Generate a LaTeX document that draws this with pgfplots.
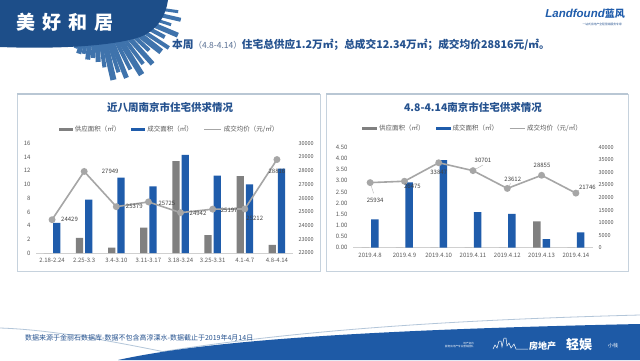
\documentclass[border=0pt]{standalone}
\usepackage{fontspec}
\setmainfont{Noto Sans CJK SC}
\newfontfamily\logofont{Liberation Sans}
\usepackage{pgfplots}
\usepackage{pgfplotstable}
\pgfplotsset{compat=1.18}
\definecolor{bannerblue}{HTML}{1D4E89}
\definecolor{skyblue}{HTML}{3F73AC}
\definecolor{barblue}{HTML}{1F5CAB}
\definecolor{bargray}{HTML}{808080}
\definecolor{lngray}{HTML}{A6A6A6}
\definecolor{titleblue}{HTML}{25528F}
\definecolor{subgray}{HTML}{5A7194}
\definecolor{panelborder}{HTML}{C6D2DD}
\definecolor{paneltop}{HTML}{B9C7D4}
\definecolor{ticktext}{HTML}{595959}
\definecolor{labeltext}{HTML}{404040}
\definecolor{axisgray}{HTML}{D0D0D0}
\definecolor{footblue}{HTML}{1E5AA6}
\definecolor{footline}{HTML}{B3C6D9}
\definecolor{leader}{HTML}{BFBFBF}

\pgfplotstableread{
x supply deal price dx dy
0 0 4.4 24429 17.5 0
1 2.2 7.8 27949 26 0
2 0.8 11.0 25379 18 0
3 3.7 9.7 25725 18.5 -1.5
4 13.4 14.3 24942 17.5 -1
5 2.6 11.3 25197 16.5 -1
6 11.2 10.0 25212 10 -9
7 1.2 12.3 28816 0 -11.5
}\lefttab

\pgfplotstableread{
x supply deal price dx dy
0 0 1.27 25934 5 -18
1 0 2.93 26475 8 -5.5
2 0 3.93 33847 0 -9.5
3 0 1.60 30701 10 10
4 0 1.52 23612 5.5 9.5
5 1.18 0.38 28855 0.5 10
6 0 0.69 21746 11.5 6
}\righttab

\pgfplotsset{
  slidebase/.style={
    anchor=south west, scale only axis, clip=false,
    /pgf/number format/assume math mode=true,
    major tick length=0pt,
    tick label style={font=\fontsize{6}{7}\selectfont, text=ticktext},
  },
  pricestyle/.style={
    color=lngray, line width=1.6pt, mark=*, mark size=2.6pt,
    mark options={fill=lngray, draw=lngray},
    nodes near coords, point meta=explicit symbolic,
    visualization depends on={\thisrow{dx} \as \dx},
    visualization depends on={\thisrow{dy} \as \dy},
    every node near coord/.append style={anchor=center, xshift=\dx pt, yshift=\dy pt,
      font=\fontsize{6}{7}\selectfont, text=labeltext},
  },
  legstyle/.style={
    legend columns=3,
    legend cell align=left,
    legend style={draw=none, fill=none, font=\fontsize{6.5}{7.5}\selectfont, text=ticktext,
      /tikz/every even column/.append style={column sep=9pt}},
  },
}

\begin{document}
\begin{tikzpicture}
\begin{scope}[x=1pt,y=1pt]
\path[use as bounding box] (0,0) rectangle (640,360);
\fill[white] (0,0) rectangle (640,360);

% ---------- header skyline ----------
\foreach \a/\l/\w in {-8/84/3,-13/88/4,-18/80/3,-23/90/5,-28/79/4,-33/88/4,-38/84/6,-43/74/4,-48/86/5,-53/80/4,-58/88/6,-63/78/4,-68/84/5,-72/76/4,-77/82/6,-82/68/4,-87/62/5,-92/58/4,-97/60/5,-102/55/4,-107/56/5,-112/52/4}{
  \fill[skyblue, rotate around={\a:(95,360)}] (125,{360-\w/2}) rectangle ({95+\l},{360+\w/2});
}
\fill[bannerblue] (0,360) -- (168,360) .. controls (166,345) and (158,330) .. (140,323)
  .. controls (110,313) and (50,311) .. (0,313) -- cycle;
\node[text=white, font=\fontsize{19}{20}\selectfont\bfseries] at (65,338)
  {美\hspace{7pt}好\hspace{7pt}和\hspace{7pt}居};

% logo
\node[anchor=east, inner sep=0pt] at (625,346)
  {\textcolor{barblue}{{\logofont\fontsize{11.5}{12}\selectfont\bfseries\itshape Landfound}{\fontsize{10}{11}\selectfont\bfseries 蓝风}}};
\node[anchor=east, inner sep=0pt, text=titleblue, font=\fontsize{2.8}{3}\selectfont] at (622,336)
  {一站式房地产全程营销服务专家};

% subtitle
\node[anchor=west, inner sep=0pt, text=titleblue] at (172,315)
  {{\fontsize{10.7}{12}\selectfont\bfseries 本周}{\fontsize{8.5}{10}\selectfont\color{subgray}（4.8-4.14）}{\fontsize{10.7}{12}\selectfont\bfseries 住宅总供应1.2万㎡；总成交12.34万㎡；成交均价28816元/㎡。}};

% ---------- panels ----------
\draw[panelborder, line width=1pt] (17,89) rectangle (320,266);
\draw[paneltop, line width=2.4pt] (17,266) -- (320,266);
\draw[panelborder, line width=1pt] (326,89) rectangle (628,266);
\draw[paneltop, line width=2.4pt] (326,266) -- (628,266);

\node[text=titleblue, font=\fontsize{10.5}{12}\selectfont\bfseries] at (170,253) {近八周南京市住宅供求情况};
\node[text=titleblue, font=\fontsize{10.5}{12}\selectfont\bfseries] at (473,253) {4.8-4.14南京市住宅供求情况};

% ---------- footer ----------
\draw[footline, line width=0.8pt] (0,32) .. controls (60,30) and (130,15) .. (190,3);
\draw[footline, line width=0.8pt] (160,8) .. controls (300,30) and (450,40) .. (640,45);
\fill[footblue] (118,0) .. controls (200,18) and (350,30) .. (640,36) -- (640,0) -- cycle;
\node[anchor=west, inner sep=0pt, text=titleblue, font=\fontsize{7}{8}\selectfont] at (25,22)
  {数据来源于金丽石数据库-数据不包含高淳溧水-数据截止于2019年4月14日};
\node[anchor=west, inner sep=0pt, text=white, font=\fontsize{2.6}{3}\selectfont, align=right] at (445,15)
  {地产资讯\\服务房地产专业营销团队};
\draw[white, line width=0.5pt] (493,11) -- (495,15) -- (497,12) -- (499,19) -- (501,19) -- (502,13)
  -- (504,22) -- (506,22) -- (507,14) -- (509,17) -- (511,12) -- (514,16) -- (516,11) -- (528,11);
\node[anchor=west, inner sep=0pt, text=white, font=\fontsize{9}{10}\selectfont\bfseries] at (529,14) {房地产};
\node[anchor=west, inner sep=0pt, text=white, font=\fontsize{13}{14}\selectfont\bfseries] at (566,15) {轻娱};
\node[anchor=west, inner sep=0pt, text=white, font=\fontsize{5}{6}\selectfont] at (608,14) {小栈};
\end{scope}

% ---------- left chart: bars ----------
\begin{axis}[slidebase, legstyle,
  at={(36pt,107pt)}, width=257pt, height=109.7pt,
  xmin=-0.5, xmax=7.5, ymin=0, ymax=16,
  xtick={0,...,7},
  xticklabels={2.18-2.24,2.25-3.3,3.4-3.10,3.11-3.17,3.18-3.24,3.25-3.31,4.1-4.7,4.8-4.14},
  ytick={0,2,...,16},
  axis x line*=bottom, axis y line*=left,
  x axis line style={draw=axisgray, line width=0.8pt},
  y axis line style={draw=none},
  yticklabel style={xshift=-2pt},
  xticklabel style={yshift=-1.5pt},
  legend style={at={(0.52,1)}, anchor=south, yshift=6pt},
]
\addplot[ybar, bar width=7.3pt, bar shift=-4.6pt, fill=bargray, draw=none,
  legend image code/.code={\fill[bargray] (0pt,-1.6pt) rectangle (14pt,1.6pt);}]
  table[x=x, y=supply] {\lefttab};
\addlegendentry{供应面积（㎡）}
\addplot[ybar, bar width=7.3pt, bar shift=4.6pt, fill=barblue, draw=none,
  legend image code/.code={\fill[barblue] (0pt,-1.6pt) rectangle (14pt,1.6pt);}]
  table[x=x, y=deal] {\lefttab};
\addlegendentry{成交面积（㎡）}
\addlegendimage{legend image code/.code={\draw[lngray, line width=1pt] (0pt,0pt) -- (17pt,0pt);}}
\addlegendentry{成交均价（元/㎡）}
\end{axis}

% ---------- left chart: price ----------
\begin{axis}[slidebase,
  at={(36pt,107pt)}, width=257pt, height=109.7pt,
  xmin=-0.5, xmax=7.5, ymin=22000, ymax=30000,
  ytick={22000,23000,...,30000},
  axis x line=none, axis y line*=right,
  y axis line style={draw=none},
  scaled y ticks=false,
  yticklabel style={/pgf/number format/1000 sep={}, font=\fontsize{5.5}{6}\selectfont, xshift=2pt},
]
\addplot[pricestyle] table[x=x, y=price, meta=price] {\lefttab};
\end{axis}

% ---------- right chart: bars ----------
\begin{axis}[slidebase, legstyle,
  at={(353pt,112.3pt)}, width=240pt, height=100.4pt,
  xmin=-0.5, xmax=6.5, ymin=0, ymax=4.5,
  xtick={0,...,6},
  xticklabels={2019.4.8,2019.4.9,2019.4.10,2019.4.11,2019.4.12,2019.4.13,2019.4.14},
  ytick={0,0.5,1,1.5,2,2.5,3,3.5,4,4.5},
  yticklabel style={/pgf/number format/.cd, fixed, fixed zerofill, precision=2, /tikz/.cd, xshift=-2pt},
  axis x line*=bottom, axis y line*=left,
  x axis line style={draw=axisgray, line width=0.8pt},
  y axis line style={draw=none},
  xticklabel style={yshift=-1.5pt},
  legend style={at={(0.5,1)}, anchor=south, yshift=11pt},
]
\addplot[ybar, bar width=7.5pt, bar shift=-4.7pt, fill=bargray, draw=none,
  legend image code/.code={\fill[bargray] (0pt,-1.6pt) rectangle (15pt,1.6pt);}]
  table[x=x, y=supply] {\righttab};
\addlegendentry{供应面积（㎡）}
\addplot[ybar, bar width=7.5pt, bar shift=4.7pt, fill=barblue, draw=none,
  legend image code/.code={\fill[barblue] (0pt,-1.6pt) rectangle (15pt,1.6pt);}]
  table[x=x, y=deal] {\righttab};
\addlegendentry{成交面积（㎡）}
\addlegendimage{legend image code/.code={\draw[lngray, line width=1pt] (0pt,0pt) -- (15pt,0pt);}}
\addlegendentry{成交均价（元/㎡）}
\end{axis}

% ---------- right chart: price ----------
\begin{axis}[slidebase,
  at={(353pt,112.3pt)}, width=240pt, height=100.4pt,
  xmin=-0.5, xmax=6.5, ymin=0, ymax=40000,
  ytick={0,5000,...,40000},
  axis x line=none, axis y line*=right,
  y axis line style={draw=none},
  scaled y ticks=false,
  yticklabel style={/pgf/number format/1000 sep={}, font=\fontsize{5.5}{6}\selectfont, xshift=2pt},
]
\addplot[leader, line width=0.5pt, forget plot] coordinates {(0,25934) (0.1,21700)};
\addplot[leader, line width=0.5pt, forget plot] coordinates {(3,30701) (3.29,32950)};
\addplot[leader, line width=0.5pt, forget plot] coordinates {(4,23612) (4.1,25600)};
\addplot[leader, line width=0.5pt, forget plot] coordinates {(6,21746) (6.09,22940)};
\addplot[pricestyle] table[x=x, y=price, meta=price] {\righttab};
\end{axis}
\end{tikzpicture}
\end{document}
